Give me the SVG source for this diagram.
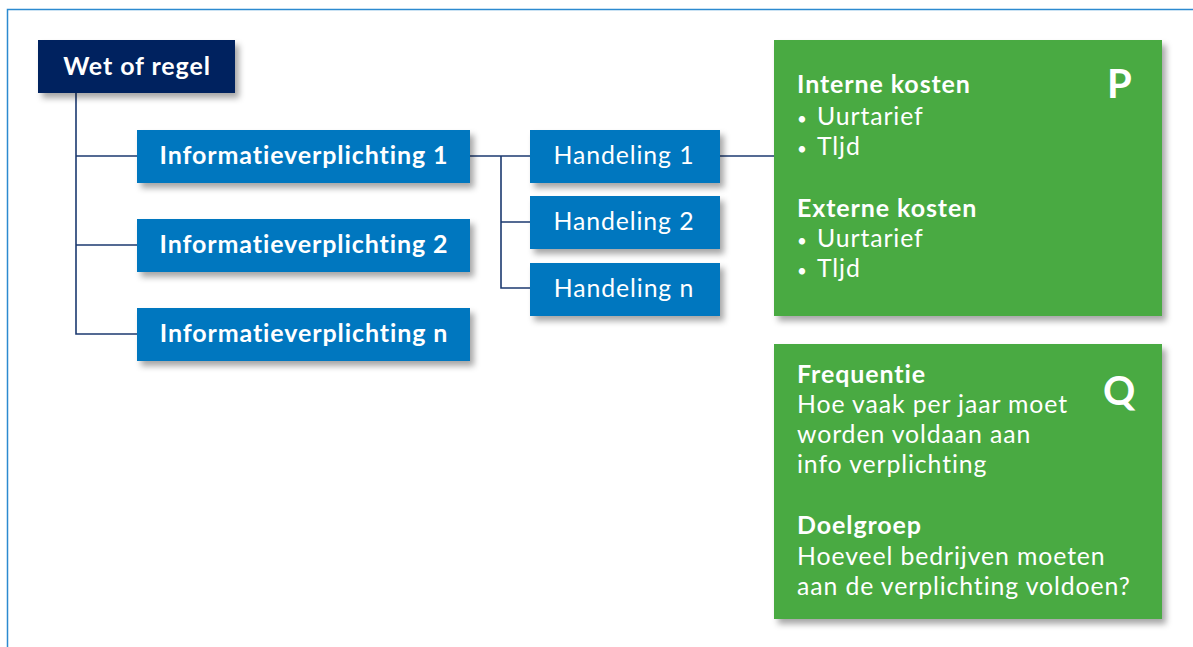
<svg xmlns="http://www.w3.org/2000/svg" width="1193" height="647" viewBox="0 0 1193 647">
<defs>
<filter id="sh" x="-10%" y="-20%" width="130%" height="150%">
<feDropShadow dx="4" dy="5" stdDeviation="3" flood-color="#000" flood-opacity="0.35"/>
</filter>
<style>
.navy{fill:#00235f;filter:url(#sh)}
.blue{fill:#0077bf;filter:url(#sh)}
.green{fill:#4aaa42;filter:url(#sh)}
.b{font-family:Lato,"Liberation Sans",sans-serif;font-weight:bold;fill:#fff;font-size:25px;letter-spacing:0.9px}
.r{font-family:Lato,"Liberation Sans",sans-serif;fill:#fff;font-size:24.8px;letter-spacing:0.9px}
.big{font-family:Lato,"Liberation Sans",sans-serif;font-weight:bold;fill:#fff;font-size:40px}
.c{text-anchor:middle}
.dot{font-size:17px}
.ln{stroke:#1c3a70;stroke-width:1.6;fill:none}
</style>
</defs>
<rect width="1193" height="647" fill="#fff"/>
<path d="M7.5 647 V9.5 H1193" stroke="#2c8ad0" stroke-width="1.5" fill="none"/>
<g id="connectors">
<path class="ln" d="M76 93 V334 H137 M76 156 H137 M76 245 H137"/>
<path class="ln" d="M470 156 H530 M501 156 V288 H530 M501 222 H530"/>
<path class="ln" d="M720 156 H774"/>
</g>
<g id="wet"><rect class="navy" x="38" y="40" width="197" height="53"/><text class="b c" x="137" y="75">Wet of regel</text></g>
<g id="iv1"><rect class="blue" x="137" y="130" width="333" height="53"/><text class="b c" x="304" y="164">Informatieverplichting 1</text></g>
<g id="iv2"><rect class="blue" x="137" y="219" width="333" height="53"/><text class="b c" x="304" y="253">Informatieverplichting 2</text></g>
<g id="ivn"><rect class="blue" x="137" y="308" width="333" height="53"/><text class="b c" x="304" y="342">Informatieverplichting n</text></g>
<g id="h1"><rect class="blue" x="530" y="130" width="190" height="53"/><text class="r c" x="624" y="164">Handeling 1</text></g>
<g id="h2"><rect class="blue" x="530" y="196" width="190" height="53"/><text class="r c" x="624" y="230">Handeling 2</text></g>
<g id="hn"><rect class="blue" x="530" y="263" width="190" height="53"/><text class="r c" x="624" y="297">Handeling n</text></g>
<g id="p">
<rect class="green" x="774" y="40" width="388" height="276"/>
<text class="big" x="1107" y="98">P</text>
<text class="b" x="797" y="93">Interne kosten</text>
<text class="r" x="797" y="125"><tspan class="dot">•</tspan><tspan x="817">Uurtarief</tspan></text>
<text class="r" x="797" y="155"><tspan class="dot">•</tspan><tspan x="817">Tljd</tspan></text>
<text class="b" x="797" y="217">Externe kosten</text>
<text class="r" x="797" y="247"><tspan class="dot">•</tspan><tspan x="817">Uurtarief</tspan></text>
<text class="r" x="797" y="277"><tspan class="dot">•</tspan><tspan x="817">Tljd</tspan></text>
</g>
<g id="q">
<rect class="green" x="774" y="344" width="388" height="275"/>
<text class="big" x="1103" y="405">Q</text>
<text class="b" x="797" y="383">Frequentie</text>
<text class="r" x="797" y="413">Hoe vaak per jaar moet</text>
<text class="r" x="797" y="443">worden voldaan aan</text>
<text class="r" x="797" y="473">info verplichting</text>
<text class="b" x="797" y="534">Doelgroep</text>
<text class="r" x="797" y="565">Hoeveel bedrijven moeten</text>
<text class="r" x="797" y="595">aan de verplichting voldoen?</text>
</g>
</svg>
